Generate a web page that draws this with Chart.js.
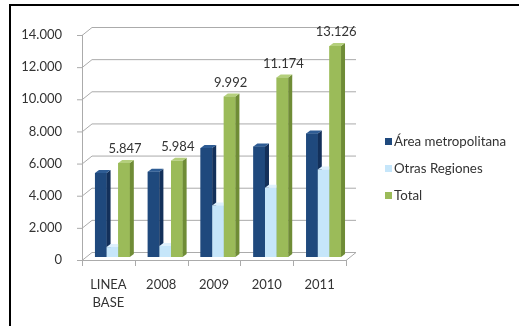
<!DOCTYPE html>
<html>
<head>
<meta charset="utf-8">
<script src="https://cdn.jsdelivr.net/npm/chart.js@4.4.1/dist/chart.umd.min.js"></script>
<style>
	body { margin: 0; background: #fff; }
	#wrap { position: relative; width: 519px; height: 326px; overflow: hidden; background: #fff; }
	#frame { position: absolute; left: 9px; top: 4px; width: 600px; height: 400px; border-left: 2px solid #000; border-top: 2px solid #000; }
	canvas { position: absolute; left: 0; top: 0; }
</style>
</head>
<body>
<div id="wrap">
	<div id="frame"></div>
	<canvas id="chart" width="519" height="326"></canvas>
</div>
<script>
const categories = [["LINEA", "BASE"], "2008", "2009", "2010", "2011"];
const metroValues = [5230, 5300, 6780, 6870, 7680];
const otrasValues = [617, 684, 3212, 4304, 5446];
const totalValues = [5847, 5984, 9992, 11174, 13126];
const yTicks = [0, 2000, 4000, 6000, 8000, 10000, 12000, 14000];

const seriesNames = ["Área metropolitana", "Otras Regiones", "Total"];
const frontColours = ["#1f497d", "#c6e6fa", "#9bbb59"];
const sideColours = ["#13305a", "#9fc7e0", "#6f8c36"];
const topColours = ["#2e5c94", "#dff1fd", "#b4cf7c"];

const FONT = "Lato, 'Liberation Sans', sans-serif";
const TEXT = "#333333";

// the bars sit half way into the box; walls are behind, the axes in front
const FRONT = {dx: -4, dy: 3};
const BACK = {dx: 6, dy: -5};
const CAP = {dx: 4, dy: -3};

function fmt(v){
	return v.toLocaleString("de-DE");
}

const boxPlugin = {
	id: "box",
	beforeDatasetsDraw(chart){
		const ctx = chart.ctx;
		const y = chart.scales.y;
		const area = chart.chartArea;
		const fl = area.left + FRONT.dx, fr = area.right + FRONT.dx;
		const bl = area.left + BACK.dx, br = area.right + BACK.dx;
		ctx.save();
		ctx.lineWidth = 1;
		ctx.strokeStyle = "#ababab";
		yTicks.forEach(t => {
			const p = y.getPixelForValue(t);
			ctx.beginPath();
			ctx.moveTo(fl, p + FRONT.dy + 0.5);
			ctx.lineTo(bl, p + BACK.dy + 0.5);
			ctx.lineTo(br, p + BACK.dy + 0.5);
			ctx.stroke();
			// tick mark at the front axis
			ctx.beginPath();
			ctx.moveTo(fl - 5, p + FRONT.dy + 0.5);
			ctx.lineTo(fl, p + FRONT.dy + 0.5);
			ctx.stroke();
		});
		// floor
		const z = y.getPixelForValue(0);
		ctx.beginPath();
		ctx.moveTo(fl, z + FRONT.dy + 0.5);
		ctx.lineTo(fr, z + FRONT.dy + 0.5);
		ctx.lineTo(br, z + BACK.dy + 0.5);
		ctx.stroke();
		// front y axis
		ctx.beginPath();
		ctx.moveTo(fl + 0.5, y.getPixelForValue(14000) + FRONT.dy);
		ctx.lineTo(fl + 0.5, z + FRONT.dy + 6);
		ctx.stroke();
		// category ticks
		for (let i = 0; i <= categories.length; i++){
			const px = Math.round(fl + (fr - fl) * i / categories.length) + 0.5;
			ctx.beginPath();
			ctx.moveTo(px, z + FRONT.dy);
			ctx.lineTo(px, z + FRONT.dy + 6);
			ctx.stroke();
		}
		ctx.restore();
	},
	afterDatasetsDraw(chart){
		const ctx = chart.ctx;
		const metas = [0, 1, 2].map(i => chart.getDatasetMeta(i));
		ctx.save();
		// redraw left to right so each bar's side hides behind its right neighbour
		categories.forEach((c, j) => {
			metas.forEach((meta, i) => {
				const bar = meta.data[j];
				bar.draw(ctx);
				const x1 = bar.x - bar.width / 2, x2 = bar.x + bar.width / 2;
				const top = bar.y, base = bar.base;
				ctx.fillStyle = sideColours[i];
				ctx.beginPath();
				ctx.moveTo(x2, top);
				ctx.lineTo(x2 + CAP.dx, top + CAP.dy);
				ctx.lineTo(x2 + CAP.dx, base + CAP.dy);
				ctx.lineTo(x2, base);
				ctx.closePath();
				ctx.fill();
				ctx.fillStyle = topColours[i];
				ctx.beginPath();
				ctx.moveTo(x1, top);
				ctx.lineTo(x1 + CAP.dx, top + CAP.dy);
				ctx.lineTo(x2 + CAP.dx, top + CAP.dy);
				ctx.lineTo(x2, top);
				ctx.closePath();
				ctx.fill();
			});
		});
		// value labels over the totals
		ctx.fillStyle = TEXT;
		ctx.font = "13px " + FONT;
		ctx.textAlign = "center";
		ctx.textBaseline = "middle";
		metas[2].data.forEach((bar, j) => {
			ctx.fillText(fmt(totalValues[j]), bar.x + 1, bar.y - 14);
		});
		ctx.restore();
	},
	afterDraw(chart){
		const ctx = chart.ctx;
		ctx.save();
		ctx.font = "13.3px " + FONT;
		ctx.textBaseline = "middle";
		ctx.textAlign = "left";
		seriesNames.forEach((name, i) => {
			const cy = 141 + 27 * i;
			ctx.fillStyle = frontColours[i];
			ctx.fillRect(385, cy - 3, 7, 7);
			ctx.fillStyle = TEXT;
			ctx.fillText(name, 394, cy + 1);
		});
		ctx.restore();
	}
};

new Chart(document.getElementById("chart"), {
	type: "bar",
	data: {
		labels: categories,
		datasets: [
			{label: seriesNames[0], data: metroValues, backgroundColor: frontColours[0]},
			{label: seriesNames[1], data: otrasValues, backgroundColor: frontColours[1]},
			{label: seriesNames[2], data: totalValues, backgroundColor: frontColours[2]},
		],
	},
	options: {
		responsive: false,
		animation: false,
		devicePixelRatio: 1,
		layout: {padding: {left: 0, top: 32, right: 169, bottom: 9}},
		datasets: {bar: {categoryPercentage: 0.66, barPercentage: 1, borderWidth: 0}},
		plugins: {legend: {display: false}, tooltip: {enabled: false}},
		scales: {
			x: {
				grid: {display: false},
				border: {display: false},
				ticks: {color: TEXT, font: {family: FONT, size: 13, lineHeight: 1.45}, padding: 10, labelOffset: FRONT.dx, maxRotation: 0},
				afterFit: s => { s.height = 60; },
			},
			y: {
				min: 0,
				max: 14000,
				grid: {display: false},
				border: {display: false},
				ticks: {stepSize: 2000, color: TEXT, font: {family: FONT, size: 13}, padding: 16, labelOffset: FRONT.dy, callback: v => fmt(v)},
				afterFit: s => { s.width = 86; },
			},
		},
	},
	plugins: [boxPlugin],
});
</script>
</body>
</html>
